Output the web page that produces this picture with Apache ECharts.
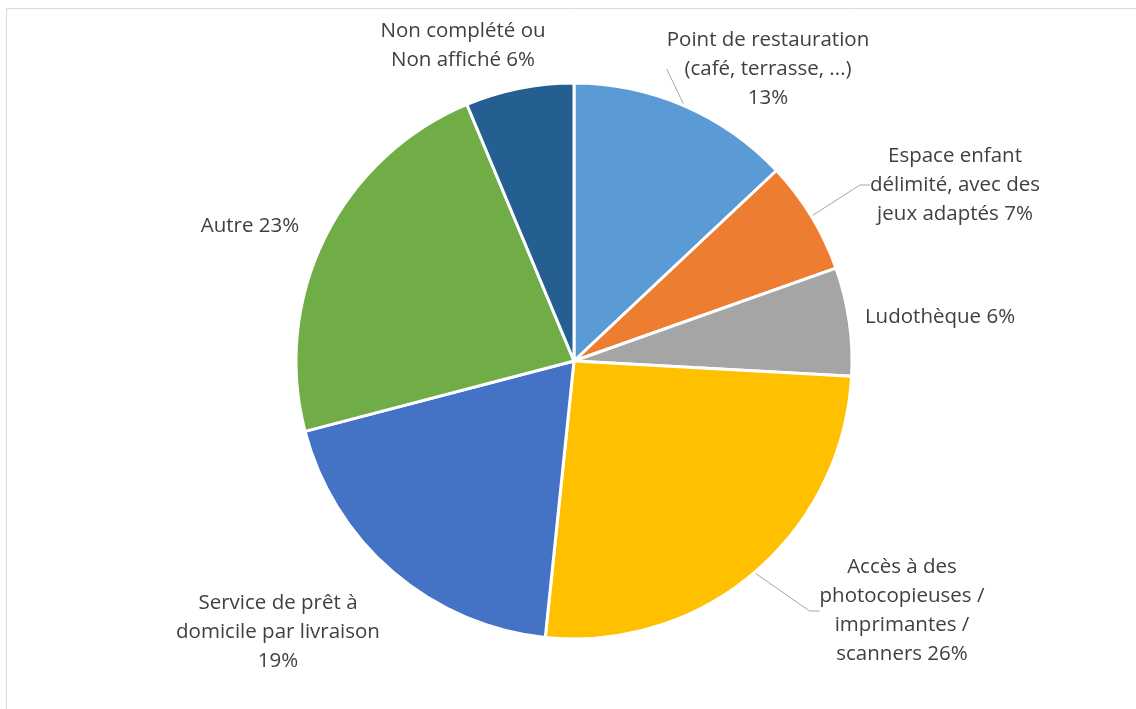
<!DOCTYPE html>
<html>
<head>
<meta charset="utf-8">
<script src="https://cdn.jsdelivr.net/npm/echarts@6/dist/echarts.min.js"></script>
<style>
  html, body { margin: 0; padding: 0; background: #fff; }
  #main { width: 1136px; height: 709px; }
</style>
</head>
<body>
<div id="main"></div>
<script>
// données (part en %)
var categories = [
  'Point de restauration (café, terrasse, ...)',
  'Espace enfant délimité, avec des jeux adaptés',
  'Ludothèque',
  'Accès à des photocopieuses / imprimantes / scanners',
  'Service de prêt à domicile par livraison',
  'Autre',
  'Non complété ou Non affiché'
]
var values = [13.0, 6.6, 6.3, 25.8, 19.3, 22.8, 6.3]
var labelTexts = [
  'Point de restauration\n(café, terrasse, ...)\n13%',
  'Espace enfant\ndélimité, avec des\njeux adaptés 7%',
  'Ludothèque 6%',
  'Accès à des\nphotocopieuses /\nimprimantes /\nscanners 26%',
  'Service de prêt à\ndomicile par livraison\n19%',
  'Autre 23%',
  'Non complété ou\nNon affiché 6%'
]
var colors = ['#5B9BD5', '#ED7D31', '#A5A5A5', '#FFC000', '#4472C4', '#70AD47', '#255E91']
var showLine = [true, true, false, true, false, false, false]

// position des étiquettes (centre du bloc de texte)
var labelPos = [
  [768, 69], [955, 185], [940, 317], [902, 611], [278, 632], [250, 226], [463, 46]
]

var myChart = echarts.init(document.getElementById('main'))
var data = []
for (var i = 0; i < values.length; i++) {
  data.push({
    name: categories[i],
    value: values[i],
    itemStyle: { color: colors[i] },
    labelLine: { show: showLine[i] }
  })
}
var option = {
  animation: false,
  graphic: [{
    type: 'rect',
    shape: { x: 6.5, y: 8.5, width: 1300, height: 900 },
    style: { fill: 'none', stroke: '#d9d9d9', lineWidth: 1 },
    silent: true
  }],
  series: [{
    type: 'pie',
    center: [574, 361],
    radius: [0, 278],
    startAngle: 90,
    clockwise: true,
    avoidLabelOverlap: false,
    itemStyle: { borderColor: '#fff', borderWidth: 3 },
    label: {
      show: true,
      position: 'outside',
      formatter: function (p) { return labelTexts[p.dataIndex] },
      fontFamily: 'Open Sans',
      fontSize: 20.5,
      lineHeight: 29,
      color: '#404040',
      align: 'center'
    },
    labelLine: {
      length: 10,
      length2: 10,
      lineStyle: { color: '#a6a6a6', width: 1 }
    },
    labelLayout: function (params) {
      var p = labelPos[params.dataIndex]
      return { x: p[0], y: p[1], align: 'center', verticalAlign: 'middle' }
    },
    emphasis: { disabled: true },
    data: data
  }]
}
myChart.setOption(option)
</script>
</body>
</html>
